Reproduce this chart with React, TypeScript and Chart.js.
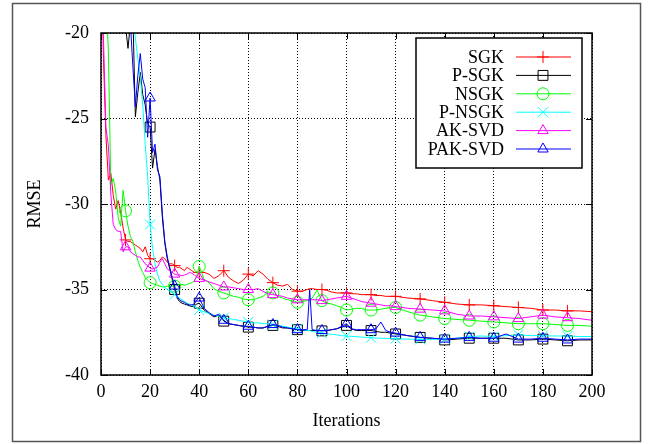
import { useEffect, useRef } from 'react';
import { Chart, registerables } from 'chart.js';

Chart.register(...registerables);

// Iteration grid shared by every curve (dense where the curves move fast)
const ITERATIONS = [
  0, 1, 2, 3, 4, 5, 6, 7, 8, 9, 10, 11, 12, 13, 14, 15, 16, 17, 18, 19, 20,
  21, 22, 23, 24, 25, 26, 27, 28, 29, 30, 31, 32, 33, 34, 35, 36, 37, 38, 39, 40,
  42, 44, 46, 48, 50, 52, 54, 56, 58, 60, 62, 64, 66, 68, 70, 72, 74, 76, 78, 80, 82, 84, 85,
  86, 88, 90, 92, 94, 96, 98, 100, 102, 104, 106, 108, 110, 112, 114, 116, 118, 120,
  125, 130, 135, 140, 145, 150, 155, 160, 165, 170, 175, 180, 185, 190, 195, 200,
];

const SGK = [
  -14, -21.5, -26, -28.6, -28.2, -29.5, -30.3, -29.8, -30.5, -31.4,
  -32.1, -32.2, -32.2, -32.3, -32.4, -32.5, -32.6, -32.8, -32.5, -33.0,
  -33.2, -33.2, -33.3, -33.4, -33.3, -33.1, -33.2, -33.4, -33.5, -33.5,
  -33.6, -33.7, -33.7, -33.8, -33.9, -33.7, -33.8, -33.9, -34.0, -34.0, -34.0,
  -34.0, -34.1, -34.35, -34.2, -33.9, -34.3, -34.5, -34.65, -34.45, -34.1, -34.2, -33.9, -34.1, -34.4,
  -34.6, -34.75, -34.8, -34.7, -35.0, -35.1, -35.1, -35.0, -34.95,
  -34.95, -35.0, -35.0, -35.05, -35.15, -35.2, -35.2, -35.2, -35.25, -35.25, -35.3, -35.3, -35.3,
  -35.35, -35.35, -35.4, -35.4, -35.4,
  -35.5, -35.55, -35.65, -35.75, -35.85, -35.9, -35.9, -35.95, -36.0, -36.05, -36.1, -36.2,
  -36.2, -36.25, -36.25, -36.3,
];

const P_SGK = [
  -2, -4, -6, -8, -10, -12, -14, -16, -18, -19.5,
  -19.6, -20.9, -19.4, -19.0, -24.9, -23.5, -22.3, -23.6, -24.2, -25.3,
  -25.5, -27.9, -26.8, -27.8, -28.6, -30.8, -32.3, -33.2, -33.8, -34.4,
  -35.0, -35.5, -35.7, -35.8, -35.85, -35.9, -35.95, -36.0, -35.95, -35.85, -35.8,
  -36.2, -36.4, -36.6, -36.5, -36.85, -37.0, -37.05, -37.1, -37.15, -37.2, -37.2, -37.25, -37.25, -37.15,
  -37.1, -37.15, -37.25, -37.25, -37.3, -37.35, -37.4, -37.4, -37.4,
  -37.4, -37.4, -37.42, -37.4, -37.35, -37.3, -37.2, -37.1, -37.3, -37.4, -37.4, -37.4, -37.4,
  -37.45, -37.5, -37.5, -37.55, -37.6,
  -37.7, -37.8, -37.85, -37.95, -37.9, -37.85, -37.85, -37.85, -37.85, -37.95, -37.95, -37.9,
  -37.95, -38.0, -37.95, -37.95,
];

const NSGK = [
  -10, -14, -18, -21, -28.9, -28.5, -29.3, -30.8, -31.3, -29.2,
  -30.4, -31.3, -31.9, -32.2, -32.8, -33.3, -33.7, -34.0, -34.3, -34.45,
  -34.6, -34.65, -34.7, -34.75, -34.8, -34.85, -34.85, -34.8, -34.8, -34.8,
  -34.8, -34.75, -34.7, -34.7, -34.75, -34.7, -34.65, -34.6, -34.5, -34.2, -33.65,
  -34.4, -34.6, -34.95, -35.1, -35.2, -35.3, -35.4, -35.45, -35.55, -35.6, -35.6, -35.5, -35.4, -35.15,
  -35.2, -35.4, -35.5, -35.6, -35.65, -35.75, -35.7, -35.65, -35.6,
  -35.5, -35.05, -35.65, -35.8, -35.85, -35.95, -36.05, -36.2, -36.15, -36.1, -36.1, -36.2, -36.2,
  -36.2, -36.15, -36.1, -36.05, -36.05,
  -36.3, -36.5, -36.6, -36.7, -36.75, -36.8, -36.85, -36.9, -36.95, -37.0, -37.0, -37.0,
  -37.05, -37.1, -37.1, -37.15,
];

const P_NSGK = [
  -2, -4, -6, -8, -10, -11, -12, -13, -14, -15,
  -16, -17, -18, -19, -20.3, -21.5, -22.6, -24.2, -26.5, -28.4,
  -31.2, -32.6, -33.5, -34.1, -34.5, -34.7, -34.9, -35.0, -35.1, -35.2,
  -35.3, -35.4, -35.5, -35.6, -35.7, -35.8, -35.85, -35.9, -36.0, -36.1, -36.2,
  -36.3, -36.4, -36.5, -36.55, -36.65, -36.7, -36.75, -36.8, -36.85, -36.9, -36.95, -36.95, -37.0, -37.0,
  -37.05, -37.1, -37.15, -37.2, -37.25, -37.3, -37.35, -37.4, -37.4,
  -37.45, -37.5, -37.55, -37.6, -37.62, -37.65, -37.7, -37.72, -37.74, -37.76, -37.78, -37.8, -37.82,
  -37.84, -37.85, -37.86, -37.87, -37.88,
  -37.9, -37.92, -37.92, -37.9, -37.85, -37.75, -37.72, -37.75, -37.7, -37.65, -37.7, -37.7,
  -37.72, -37.72, -37.75, -37.75,
];

const AK_SVD = [
  -14, -20.3, -25.5, -26.6, -29.4, -31.2, -31.5, -31.6, -31.6, -32.8,
  -32.5, -32.5, -32.8, -32.9, -33.0, -33.1, -33.1, -33.3, -33.5, -33.6,
  -33.75, -33.8, -33.75, -33.7, -33.4, -33.2, -33.5, -33.8, -33.9, -34.0,
  -34.1, -34.15, -34.15, -34.2, -34.15, -34.1, -34.0, -34.05, -34.15, -34.25, -34.35,
  -34.45, -34.55, -34.65, -34.75, -34.85, -34.85, -34.9, -34.95, -35.0, -35.0, -35.0, -34.95, -35.1, -35.25,
  -35.3, -35.35, -35.4, -35.5, -35.55, -35.6, -35.6, -35.6, -35.6,
  -35.6, -35.6, -35.65, -35.6, -35.55, -35.5, -35.45, -35.4, -35.5, -35.6, -35.7, -35.75, -35.8,
  -35.85, -35.9, -35.95, -35.95, -36.0,
  -36.1, -36.15, -36.2, -36.25, -36.45, -36.55, -36.55, -36.6, -36.65, -36.7, -36.6, -36.5,
  -36.6, -36.65, -36.7, -36.8,
];

const PAK_SVD = [
  -2, -4, -6, -8, -10, -12, -14, -16, -17, -18,
  -19, -19.8, -19.5, -22.0, -24.3, -22.5, -21.2, -22.7, -23.2, -26.1,
  -23.8, -27.0, -26.5, -28.0, -28.4, -30.6, -32.2, -33.1, -33.7, -34.3,
  -34.8, -35.4, -35.6, -35.7, -35.75, -35.85, -35.9, -35.9, -35.85, -35.6, -35.5,
  -36.1, -36.35, -36.55, -36.45, -36.8, -37.0, -37.05, -37.1, -37.15, -37.15, -37.2, -37.25, -37.25, -37.15,
  -37.05, -37.1, -37.2, -37.25, -37.3, -37.35, -37.35, -37.35, -35.0,
  -37.35, -37.4, -37.4, -37.4, -37.35, -37.3, -37.15, -37.0, -37.3, -37.35, -37.35, -37.35, -37.35,
  -37.3, -36.9, -37.4, -37.5, -37.55,
  -37.7, -37.8, -37.85, -37.9, -37.85, -37.8, -37.85, -37.85, -37.6, -37.9, -37.9, -37.85,
  -37.9, -37.95, -37.9, -37.9,
];

const SERIES_NAMES = ['SGK', 'P-SGK', 'NSGK', 'P-NSGK', 'AK-SVD', 'PAK-SVD'];
const SERIES_VALUES = [SGK, P_SGK, NSGK, P_NSGK, AK_SVD, PAK_SVD];
const SERIES_COLORS = ['#ff0000', '#000000', '#00ff00', '#00ffff', '#ff00ff', '#0000ff'];
const SERIES_MARKERS = ['cross', 'rect', 'circle', 'crossRot', 'triangle', 'triangle'];
const MARKER_RADII = [6, 7, 6, 7, 6, 6];

const X_MIN = 0;
const X_MAX = 200;
const X_STEP = 20;
const Y_MIN = -40;
const Y_MAX = -20;
const Y_STEP = 5;
const MARKER_EVERY = 10;

const FONT_FAMILY = '"Liberation Serif", "Times New Roman", serif';

function drawMarker(ctx: CanvasRenderingContext2D, style: string, x: number, y: number, r: number) {
  ctx.beginPath();
  if (style === 'cross') {
    ctx.moveTo(x - r, y); ctx.lineTo(x + r, y);
    ctx.moveTo(x, y - r); ctx.lineTo(x, y + r);
  } else if (style === 'crossRot') {
    const d = r * Math.SQRT1_2;
    ctx.moveTo(x - d, y - d); ctx.lineTo(x + d, y + d);
    ctx.moveTo(x - d, y + d); ctx.lineTo(x + d, y - d);
  } else if (style === 'rect') {
    const d = r * Math.SQRT1_2;
    ctx.rect(x - d, y - d, 2 * d, 2 * d);
  } else if (style === 'circle') {
    ctx.arc(x, y, r, 0, Math.PI * 2);
  } else if (style === 'triangle') {
    for (let k = 0; k < 3; k++) {
      const a = (k * 2 * Math.PI) / 3;
      const px = x + Math.sin(a) * r;
      const py = y - Math.cos(a) * r;
      if (k === 0) ctx.moveTo(px, py); else ctx.lineTo(px, py);
    }
    ctx.closePath();
  }
  ctx.stroke();
}

const decorations = {
  id: 'decorations',
  beforeDraw(chart: any) {
    const { ctx, width, height } = chart;
    ctx.save();
    ctx.fillStyle = '#ffffff';
    ctx.fillRect(0, 0, width, height);
    ctx.restore();
  },
  afterDraw(chart: any) {
    const { ctx, chartArea: a, scales } = chart;
    ctx.save();

    // inward tick marks on all four sides
    ctx.strokeStyle = '#000';
    ctx.lineWidth = 1;
    ctx.beginPath();
    for (let v = X_MIN; v <= X_MAX; v += X_STEP) {
      const px = Math.round(scales.x.getPixelForValue(v)) + 0.5;
      ctx.moveTo(px, a.bottom); ctx.lineTo(px, a.bottom - 6);
      ctx.moveTo(px, a.top); ctx.lineTo(px, a.top + 6);
    }
    for (let v = Y_MIN; v <= Y_MAX; v += Y_STEP) {
      const py = Math.round(scales.y.getPixelForValue(v)) + 0.5;
      ctx.moveTo(a.left, py); ctx.lineTo(a.left + 6, py);
      ctx.moveTo(a.right, py); ctx.lineTo(a.right - 6, py);
    }
    ctx.stroke();

    // plot border
    ctx.lineWidth = 1.5;
    ctx.strokeRect(a.left, a.top, a.right - a.left, a.bottom - a.top);

    // legend
    const bx = a.right - 176;
    const by = a.top + 5;
    const bw = 166;
    const bh = 130;
    ctx.fillStyle = '#ffffff';
    ctx.fillRect(bx, by, bw, bh);
    ctx.lineWidth = 1.5;
    ctx.strokeStyle = '#000';
    ctx.strokeRect(bx, by, bw, bh);
    ctx.font = `18px ${FONT_FAMILY}`;
    ctx.textAlign = 'right';
    ctx.textBaseline = 'middle';
    SERIES_NAMES.forEach((name, i) => {
      const y = by + 19 + i * 18.4;
      ctx.fillStyle = '#000';
      ctx.fillText(name, bx + 88, y + 1);
      ctx.strokeStyle = SERIES_COLORS[i];
      ctx.lineWidth = 1;
      ctx.beginPath();
      ctx.moveTo(bx + 100, y);
      ctx.lineTo(bx + 155, y);
      ctx.stroke();
      drawMarker(ctx, SERIES_MARKERS[i], bx + 127, y, MARKER_RADII[i]);
    });

    // outer frame
    ctx.strokeStyle = '#555555';
    ctx.lineWidth = 1.5;
    ctx.strokeRect(12.5, 3.5, 628, 438);
    ctx.restore();
  },
};

export default function App() {
  const canvasRef = useRef<HTMLCanvasElement | null>(null);

  useEffect(() => {
    const canvas = canvasRef.current;
    if (!canvas) return;
    const font = { family: FONT_FAMILY, size: 18 };

    const datasets = SERIES_NAMES.map((name, i) => ({
      label: name,
      data: ITERATIONS.map((x, k) => ({ x, y: SERIES_VALUES[i][k] })),
      borderColor: SERIES_COLORS[i],
      borderWidth: 1,
      backgroundColor: 'rgba(0,0,0,0)',
      pointStyle: SERIES_MARKERS[i],
      pointBorderColor: SERIES_COLORS[i],
      pointBackgroundColor: 'rgba(0,0,0,0)',
      pointBorderWidth: 1,
      pointRadius: (c: any) => {
        const x = ITERATIONS[c.dataIndex];
        const y = SERIES_VALUES[i][c.dataIndex];
        const onMarker = x % MARKER_EVERY === 0 && x >= MARKER_EVERY && x < X_MAX;
        return onMarker && y <= Y_MAX ? MARKER_RADII[i] : 0;
      },
      pointHoverRadius: 0,
      tension: 0,
      fill: false,
      order: -i,
      clip: 0,
    }));

    const chart = new Chart(canvas, {
      type: 'line',
      data: { datasets },
      options: {
        animation: false,
        responsive: false,
        maintainAspectRatio: false,
        events: [],
        layout: { padding: { left: 0, top: 33, right: 61, bottom: 0 } },
        plugins: {
          legend: { display: false },
          tooltip: { enabled: false },
        },
        scales: {
          x: {
            type: 'linear',
            min: X_MIN,
            max: X_MAX,
            afterFit: (s: any) => { s.height = 69; },
            grid: { color: '#000', lineWidth: 1, drawTicks: false },
            border: { display: false, dash: [1, 2] },
            ticks: { stepSize: X_STEP, padding: 6, color: '#000', font, maxRotation: 0 },
            title: { display: true, text: 'Iterations', color: '#000', font, padding: { top: 0, bottom: 12 } },
          },
          y: {
            type: 'linear',
            min: Y_MIN,
            max: Y_MAX,
            afterFit: (s: any) => { s.width = 101; },
            grid: { color: '#000', lineWidth: 1, drawTicks: false },
            border: { display: false, dash: [1, 2] },
            ticks: { stepSize: Y_STEP, padding: 12, color: '#000', font, callback: (v: any) => String(v) },
            title: { display: true, text: 'RMSE', color: '#000', font, padding: { top: 24, bottom: 0 } },
          },
        },
      },
      plugins: [decorations],
    });

    return () => chart.destroy();
  }, []);

  return (
    <div style={{ position: 'absolute', left: 0, top: 0, width: 653, height: 444 }}>
      <canvas ref={canvasRef} width={653} height={444} />
    </div>
  );
}
